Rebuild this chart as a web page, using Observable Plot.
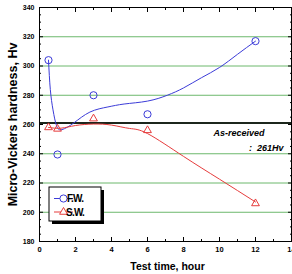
<!DOCTYPE html>
<html>
<head>
<meta charset="utf-8">
<script src="https://cdn.jsdelivr.net/npm/d3@7"></script>
<script src="https://cdn.jsdelivr.net/npm/@observablehq/plot@0.6"></script>
<style>
  body { margin: 0; background: #fff; }
  #chart { width: 292px; height: 274px; }
  #chart svg text { font-family: "Liberation Sans", Arial, sans-serif; }
</style>
</head>
<body>
<div id="chart"></div>
<script>
// Measured hardness (Hv) against test time (hours)
const hours = [0.5, 1, 3, 6, 12];
const fwHardness = [304, 239.5, 280, 267, 317];
const swHardness = [258, 257, 264, 256, 206];

// Fitted trend curves drawn through the measurements
const fwFitHours = [0.5, 0.6, 0.75, 0.95, 1.25, 1.9, 2.8, 3.8, 4.7, 6, 7.1, 8, 9, 10, 11, 12];
const fwFit = [304, 284, 270, 259, 256.5, 261, 268.5, 272, 274, 276, 280, 285, 292, 299, 308, 317];
const swFitHours = [0.5, 1.2, 2, 3, 4, 5, 6, 8, 10, 12];
const swFit = [258, 257.5, 259.3, 260.3, 259.6, 257.3, 253.8, 238.2, 222.6, 207];

// Reference hardness of the as-received material
const asReceived = 261;

// Axes
const xTicks = [0, 2, 4, 6, 8, 10, 12, 14];
const yTicks = [180, 200, 220, 240, 260, 280, 300, 320, 340];
const gridLevels = [200, 220, 240, 280, 300, 320];
const xMinor = d3.range(1, 14, 2);
const yMinor = d3.range(180, 341, 5).filter(v => v % 20 !== 0);

const seriesNames = ["F.W.", "S.W."];
const blue = "#3c3cd8";
const red = "#e63c3c";
const gridGreen = "#6cb86c";

const fw = hours.map((h, i) => ({h, v: fwHardness[i]}));
const sw = hours.map((h, i) => ({h, v: swHardness[i]}));
const fwCurve = fwFitHours.map((h, i) => ({h, v: fwFit[i]}));
const swCurve = swFitHours.map((h, i) => ({h, v: swFit[i]}));

const tickStyle = {fontSize: 7.5, fontWeight: "bold", letterSpacing: "-0.5px"};

const chart = Plot.plot({
  width: 292,
  height: 274,
  marginLeft: 39,
  marginRight: 1,
  marginTop: 7,
  marginBottom: 33,
  style: {background: "#fff", overflow: "visible"},
  x: {domain: [0, 14]},
  y: {domain: [180, 340]},
  marks: [
    Plot.ruleY(gridLevels, {stroke: gridGreen, strokeWidth: 1}),
    Plot.ruleY([asReceived], {stroke: "#1c261c", strokeWidth: 2}),
    Plot.line(fwCurve, {x: "h", y: "v", curve: "natural", stroke: blue, strokeWidth: 1}),
    Plot.line(swCurve, {x: "h", y: "v", curve: "natural", stroke: red, strokeWidth: 1}),
    Plot.dot(fw, {x: "h", y: "v", symbol: "circle", r: 3.6, stroke: blue, fill: "none", strokeWidth: 1}),
    Plot.dot(sw, {x: "h", y: "v", symbol: "triangle", r: 2.9, stroke: red, fill: "none", strokeWidth: 1}),
    Plot.text(["As-received"], {frameAnchor: "right", y: () => asReceived, text: d => d, textAnchor: "end",
      dx: -27, dy: 10.5, fontSize: 9, fontWeight: "bold", fontStyle: "italic", letterSpacing: "-0.4px"}),
    Plot.text([asReceived], {frameAnchor: "right", y: d => d, text: d => `:  ${d}Hv`, textAnchor: "end",
      dx: -8, dy: 25, fontSize: 9, fontWeight: "bold", fontStyle: "italic", letterSpacing: "-0.4px"}),
    Plot.frame({stroke: "#000", strokeWidth: 1}),
    // inward tick marks on all four sides
    Plot.axisX(xTicks, {anchor: "bottom", tickSize: -4, tickFormat: () => "", label: null}),
    Plot.axisX(xMinor, {anchor: "bottom", tickSize: -2, tickFormat: () => "", label: null}),
    Plot.axisX(xTicks, {anchor: "top", tickSize: -4, tickFormat: () => "", label: null}),
    Plot.axisX(xMinor, {anchor: "top", tickSize: -2, tickFormat: () => "", label: null}),
    Plot.axisY(yTicks, {anchor: "left", tickSize: -4, tickFormat: () => "", label: null}),
    Plot.axisY(yMinor, {anchor: "left", tickSize: -2, tickFormat: () => "", label: null}),
    Plot.axisY(yTicks, {anchor: "right", tickSize: -4, tickFormat: () => "", label: null}),
    Plot.axisY(yMinor, {anchor: "right", tickSize: -2, tickFormat: () => "", label: null}),
    // tick labels
    Plot.axisX(xTicks, {anchor: "bottom", tickSize: 0, tickPadding: 5, label: null, ...tickStyle}),
    Plot.axisY(yTicks, {anchor: "left", tickSize: 0, tickPadding: 5, label: null, ...tickStyle, fontSize: 7}),
    // axis titles
    Plot.text(["Test time, hour"], {frameAnchor: "bottom", text: d => d, dy: 28, dx: 2,
      fontSize: 10.5, fontWeight: "bold", letterSpacing: "-1px"}),
    Plot.text(["Micro-Vickers hardness, Hv"], {frameAnchor: "left", text: d => d, rotate: -90, textAnchor: "middle",
      dx: -27, dy: 0, fontSize: 12.5, fontWeight: "bold", letterSpacing: "-0.1px"})
  ]
});

// Legend box with drop shadow
const svg = d3.select(chart);
const legend = svg.append("g").attr("transform", "translate(49,187)");
legend.append("rect").attr("x", 3).attr("y", 3).attr("width", 52).attr("height", 34).attr("fill", "#000");
legend.append("rect").attr("x", 0).attr("y", 0).attr("width", 52).attr("height", 34)
  .attr("fill", "#fff").attr("stroke", "#000").attr("stroke-width", 1);
const entries = [
  {name: seriesNames[0], color: blue, symbol: d3.symbolCircle, size: Math.PI * 3.6 * 3.6},
  {name: seriesNames[1], color: red, symbol: d3.symbolTriangle, size: Math.PI * 2.9 * 2.9}
];
entries.forEach((e, i) => {
  const row = legend.append("g").attr("transform", `translate(0,${11.5 + i * 13.5})`);
  row.append("line").attr("x1", 5).attr("x2", 24).attr("stroke", e.color).attr("stroke-width", 1);
  row.append("path").attr("d", d3.symbol(e.symbol, e.size)()).attr("transform", "translate(14.5,0)")
    .attr("fill", "#fff").attr("stroke", e.color).attr("stroke-width", 1);
  row.append("text").attr("x", 26).attr("y", 0).attr("dy", "0.35em").text(e.name)
    .attr("font-size", 10).attr("font-weight", "bold").attr("letter-spacing", "-0.8px").attr("fill", "#000");
});

document.getElementById("chart").appendChild(chart);
</script>
</body>
</html>
